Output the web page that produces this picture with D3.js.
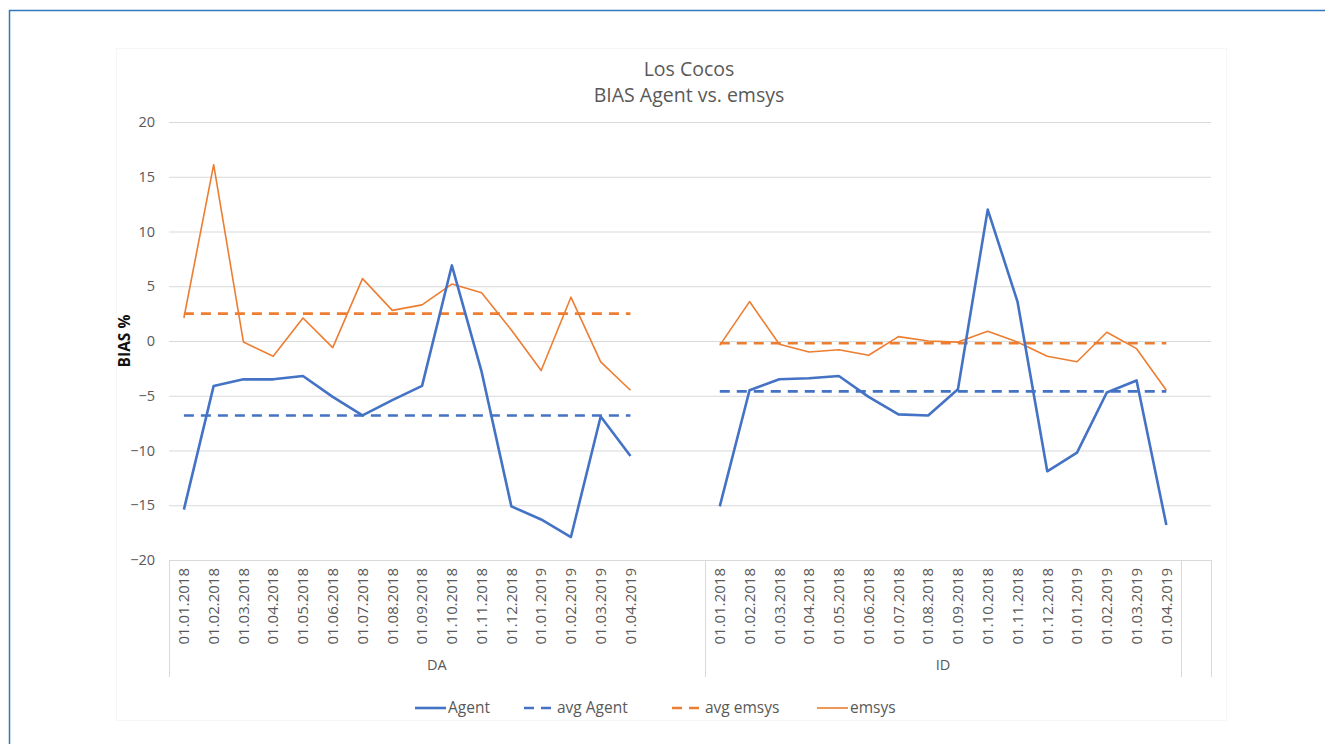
<!DOCTYPE html>
<html>
<head>
<meta charset="utf-8">
<script src="https://cdn.jsdelivr.net/npm/d3@7"></script>
<style>
  html, body { margin: 0; padding: 0; background: #ffffff; }
  svg { display: block; }
  text { font-family: "Open Sans", "Noto Sans", sans-serif; }
</style>
</head>
<body>
<svg id="chart" width="1325" height="744"></svg>
<script>
// ---- data ----
const titleLines = ["Los Cocos", "BIAS Agent vs. emsys"];
const yTitle = "BIAS %";
const groups = ["DA", "ID"];
const dates = ["01.01.2018","01.02.2018","01.03.2018","01.04.2018","01.05.2018","01.06.2018",
               "01.07.2018","01.08.2018","01.09.2018","01.10.2018","01.11.2018","01.12.2018",
               "01.01.2019","01.02.2019","01.03.2019","01.04.2019"];
const yTicks = [-20, -15, -10, -5, 0, 5, 10, 15, 20];

const agentDA = [-15.4, -4.1, -3.5, -3.5, -3.2, -5.1, -6.8, -5.4, -4.1, 6.9, -2.8, -15.1, -16.3, -17.9, -6.9, -10.5];
const agentID = [-15.1, -4.5, -3.5, -3.4, -3.2, -5.1, -6.7, -6.8, -4.4, 12.0, 3.6, -11.9, -10.2, -4.7, -3.6, -16.8];
const emsysDA = [2.1, 16.1, -0.1, -1.4, 2.1, -0.6, 5.7, 2.8, 3.3, 5.2, 4.4, 1.0, -2.7, 4.0, -1.9, -4.5];
const emsysID = [-0.4, 3.6, -0.3, -1.0, -0.8, -1.3, 0.4, 0.0, -0.1, 0.9, -0.1, -1.4, -1.9, 0.8, -0.7, -4.5];
const avgAgent = [-6.8, -4.6];   // DA, ID
const avgEmsys = [2.5, -0.2];    // DA, ID

const seriesNames = ["Agent", "avg Agent", "avg emsys", "emsys"];

// ---- layout ----
const BLUE = "#4472C4", ORANGE = "#ED7D31";
const GRID = "#d9d9d9", TXT = "#595959";
const plotLeft = 169, plotRight = 1211, plotTop = 122, plotBottom = 560;

// category slots: DA dates + 2 blank slots, ID dates + 1 blank slot
const slots = [];
dates.forEach(d => slots.push("DA|" + d));
slots.push("DA|_b1", "DA|_b2");
dates.forEach(d => slots.push("ID|" + d));
slots.push("_end|_b3");

const x = d3.scaleBand().domain(slots).range([plotLeft, plotRight]).padding(0);
const xc = key => x(key) + x.bandwidth() / 2;
const y = d3.scaleLinear().domain([-20, 20]).range([plotBottom, plotTop]);

const svg = d3.select("#chart");

// outer frame
svg.append("rect").attr("x", 9.5).attr("y", 10.5).attr("width", 1400).attr("height", 800)
  .attr("fill", "none").attr("stroke", "#2f78c0").attr("stroke-width", 1.5);
// chart area (faint)
svg.append("rect").attr("x", 116.5).attr("y", 48.5).attr("width", 1110).attr("height", 672)
  .attr("fill", "none").attr("stroke", "#f6f6f6").attr("stroke-width", 1);

// title
svg.append("g").selectAll("text").data(titleLines).join("text")
  .attr("x", 689).attr("y", (d, i) => 76 + i * 26)
  .attr("text-anchor", "middle").attr("fill", TXT)
  .style("font-size", "19.5px").text(d => d);

// grid lines
const yAxis = d3.axisLeft(y).tickValues(yTicks).tickSize(-(plotRight - plotLeft)).tickPadding(14);
const gy = svg.append("g").attr("transform", `translate(${plotLeft},0)`).call(yAxis);
gy.select(".domain").remove();
gy.selectAll(".tick line").attr("stroke", GRID).attr("stroke-width", 1);
gy.selectAll(".tick text").attr("fill", TXT).style("font-size", "14.5px")
  .style("font-family", "'Open Sans', sans-serif").attr("x", -14);

// y title
svg.append("text").attr("transform", `translate(130,${y(0)}) rotate(-90)`)
  .attr("text-anchor", "middle").attr("font-weight", "bold").attr("fill", "#111")
  .style("font-size", "15.5px").text(yTitle);

// category axis
const xAxisG = svg.append("g");
xAxisG.append("line").attr("x1", plotLeft).attr("x2", plotRight)
  .attr("y1", plotBottom + 0.5).attr("y2", plotBottom + 0.5).attr("stroke", GRID);
const dividers = [x(slots[0]), x("ID|" + dates[0]), x("_end|_b3"), plotRight];
xAxisG.selectAll("line.div").data(dividers).join("line").attr("class", "div")
  .attr("x1", d => Math.round(d) + 0.5).attr("x2", d => Math.round(d) + 0.5)
  .attr("y1", plotBottom).attr("y2", 677).attr("stroke", GRID);

const labelSlots = slots.filter(s => !s.includes("|_"));
xAxisG.selectAll("text.date").data(labelSlots).join("text").attr("class", "date")
  .attr("transform", d => `translate(${xc(d)},568) rotate(-90)`)
  .attr("text-anchor", "end").attr("dy", "0.35em").attr("fill", TXT)
  .style("font-size", "15px").text(d => d.split("|")[1]);

const groupCenters = [
  (x(slots[0]) + x("ID|" + dates[0])) / 2,
  (x("ID|" + dates[0]) + x("_end|_b3")) / 2
];
xAxisG.selectAll("text.grp").data(groups).join("text").attr("class", "grp")
  .attr("x", (d, i) => groupCenters[i]).attr("y", 670)
  .attr("text-anchor", "middle").attr("fill", TXT).style("font-size", "14.5px").text(d => d);

// series
const line = d3.line().x(d => d[0]).y(d => d[1]);
function pts(group, vals) { return vals.map((v, i) => [xc(group + "|" + dates[i]), y(v)]); }

const plot = svg.append("g");
groups.forEach((g, gi) => {
  const first = xc(g + "|" + dates[0]), last = xc(g + "|" + dates[dates.length - 1]);
  plot.append("path").attr("d", line([[first, y(avgEmsys[gi])], [last, y(avgEmsys[gi])]]))
    .attr("fill", "none").attr("stroke", ORANGE).attr("stroke-width", 2.6).attr("stroke-dasharray", "10,7");
  plot.append("path").attr("d", line([[first, y(avgAgent[gi])], [last, y(avgAgent[gi])]]))
    .attr("fill", "none").attr("stroke", BLUE).attr("stroke-width", 2.6).attr("stroke-dasharray", "10,7");
});
[["DA", emsysDA], ["ID", emsysID]].forEach(([g, v]) => {
  plot.append("path").attr("d", line(pts(g, v))).attr("fill", "none")
    .attr("stroke", ORANGE).attr("stroke-width", 1.6).attr("stroke-linejoin", "round");
});
[["DA", agentDA], ["ID", agentID]].forEach(([g, v]) => {
  plot.append("path").attr("d", line(pts(g, v))).attr("fill", "none")
    .attr("stroke", BLUE).attr("stroke-width", 2.6).attr("stroke-linejoin", "round");
});

// legend
const legendItems = [
  { name: seriesNames[0], color: BLUE, w: 2.6, dash: null, x: 415 },
  { name: seriesNames[1], color: BLUE, w: 2.6, dash: "10,7", x: 524 },
  { name: seriesNames[2], color: ORANGE, w: 2.6, dash: "10,7", x: 672 },
  { name: seriesNames[3], color: ORANGE, w: 1.6, dash: null, x: 817 }
];
const lg = svg.append("g").selectAll("g").data(legendItems).join("g")
  .attr("transform", d => `translate(${d.x},708)`);
lg.append("line").attr("x1", 0).attr("x2", 31).attr("y1", 0).attr("y2", 0)
  .attr("stroke", d => d.color).attr("stroke-width", d => d.w)
  .attr("stroke-dasharray", d => d.dash);
lg.append("text").attr("x", 33).attr("dy", "0.35em").attr("fill", TXT)
  .style("font-size", "15.5px").text(d => d.name);
</script>
</body>
</html>
